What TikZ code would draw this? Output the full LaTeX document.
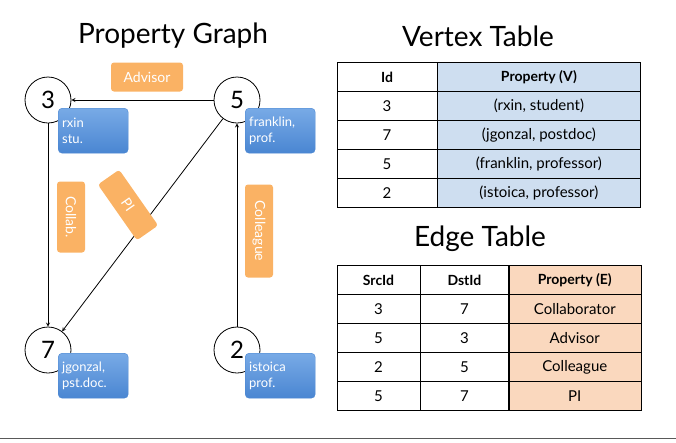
\documentclass[tikz,border=0pt]{standalone}
\usepackage{fontspec}
\setmainfont{Lato}
\usetikzlibrary{positioning}
\usetikzlibrary{arrows}

\definecolor{blueA}{RGB}{120,170,230}
\definecolor{blueB}{RGB}{74,134,210}
\definecolor{orangeA}{RGB}{250,178,100}
\definecolor{vfill}{RGB}{206,222,240}
\definecolor{efill}{RGB}{250,216,190}

\begin{document}
\begin{tikzpicture}[x=1pt,y=-1pt]
	\tikzset{vertex/.style={shape=circle, draw=black, thick, fill=white, minimum size=46pt, inner sep=0pt, font=\fontsize{24}{26}\selectfont}}
	\tikzset{prop/.style={shape=rectangle, rounded corners=4pt, top color=blueA, bottom color=blueB, draw=blueB, text=white, align=left, anchor=north west, minimum width=70pt, minimum height=45pt, text width=62pt, inner sep=3pt, font=\fontsize{13}{16}\selectfont}}
	\tikzset{lbl/.style={shape=rectangle, rounded corners=3pt, fill=orangeA, text=white, font=\fontsize{14}{16}\selectfont, inner sep=2pt}}
	\tikzset{flow/.style={-stealth, thick}}
	\tikzset{cell/.style={shape=rectangle, draw=black, minimum height=29pt, inner sep=0pt, font=\fontsize{15}{17}\selectfont}}
	\tikzset{head/.style={cell, font=\bfseries\fontsize{14}{17}\selectfont}}
	\tikzset{title/.style={font=\fontsize{28}{30}\selectfont}}
	\useasboundingbox (0,0) rectangle (676,442);
	% titles
	\node[title] (pgtitle) at (173,36) {Property Graph};
	\node[title] (vttitle) at (478,36) {Vertex Table};
	\node[title] (ettitle) at (480,239) {Edge Table};
	% graph
	\node[vertex] (v3) at (48,100) {3};
	\node[vertex] (v5) at (237,100) {5};
	\node[vertex] (v7) at (48,350) {7};
	\node[vertex] (v2) at (237,350) {2};
	\draw[flow] (v5) -- (v3);
	\draw[flow] (v3) -- (v7);
	\draw[flow] (v5) -- (v7);
	\draw[flow] (v2) -- (v5);
	\node[prop] (p3) at (58,108) {rxin\\stu.};
	\node[prop] (p5) at (245,108) {franklin,\\prof.};
	\node[prop] (p7) at (58,353) {jgonzal,\\pst.doc.};
	\node[prop] (p2) at (245,353) {istoica\\prof.};
	\node[lbl, minimum width=72pt, minimum height=29pt] (advisor) at (147,77) {Advisor};
	\node[lbl, rotate=-90, minimum width=71pt, minimum height=28pt] (collab) at (71,217) {Collab.};
	\node[lbl, rotate=-55, minimum width=68pt, minimum height=26pt] (pi) at (128,205) {PI};
	\node[lbl, rotate=-90, minimum width=93pt, minimum height=28pt] (colleague) at (259,231) {Colleague};
	% vertex table
	\node[head, minimum width=100pt] (vh1) at (387,77) {Id};
	\node[head, fill=vfill, minimum width=203pt, right=0pt of vh1] (vh2) {Property (V)};
	\foreach \i/\id/\p in {1/3/{(rxin, student)},2/7/{(jgonzal, postdoc)},3/5/{(franklin, professor)},4/2/{(istoica, professor)}}{
		\node[cell, minimum width=100pt] (va\i) at (387,77+29*\i) {\id};
		\node[cell, fill=vfill, minimum width=203pt, right=0pt of va\i] (vb\i) {\p};
	}
	% edge table
	\node[head, minimum width=83pt] (eh1) at (378.5,280) {SrcId};
	\node[head, minimum width=88pt, right=0pt of eh1] (eh2) {DstId};
	\node[head, fill=efill, minimum width=132pt, right=0pt of eh2] (eh3) {Property (E)};
	\foreach \i/\s/\d/\p in {1/3/7/Collaborator,2/5/3/Advisor,3/2/5/Colleague,4/5/7/PI}{
		\node[cell, minimum width=83pt] (ea\i) at (378.5,280+29*\i) {\s};
		\node[cell, minimum width=88pt, right=0pt of ea\i] (eb\i) {\d};
		\node[cell, fill=efill, minimum width=132pt, right=0pt of eb\i] (ec\i) {\p};
	}
	% rule
	\draw[thick, gray!70!black] (0,438) -- (676,438);
\end{tikzpicture}
\end{document}
